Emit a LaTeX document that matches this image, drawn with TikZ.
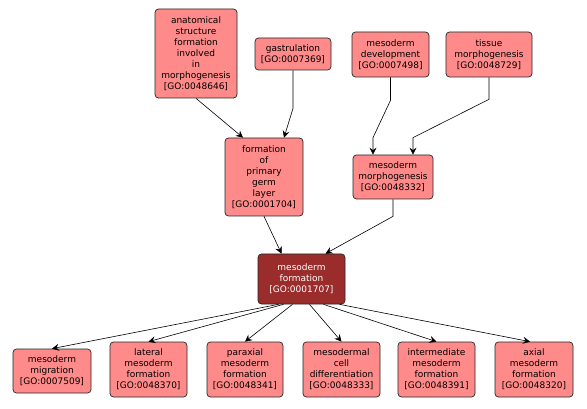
\documentclass[tikz,border=0pt]{standalone}
\usepackage{fontspec}
\setmainfont{DejaVu Sans}
\usetikzlibrary{arrows.meta, positioning, calc}
\definecolor{goSalmon}{RGB}{255,138,138}
\definecolor{goDark}{RGB}{155,44,44}

\begin{document}
\begin{tikzpicture}[x=1pt, y=-1pt,
    term/.style={draw=black!85, line width=0.7pt, fill=goSalmon, rounded corners=3.5pt, align=center, inner sep=0pt, font=\fontsize{9}{11}\selectfont},
    focus/.style={term, fill=goDark, text=white},
    link/.style={-{Stealth[length=7pt, width=7pt, inset=2.5pt]}, line width=0.6pt}]
    \useasboundingbox (0,0) rectangle (587,409);
    % Top row
    \node[term, minimum width=82pt, minimum height=89pt] (anat) at (196,53.5) {anatomical\\structure\\formation\\involved\\in\\morphogenesis\\{[}GO:0048646{]}};
    \node[term, minimum width=76pt, minimum height=32pt] (gast) at (293,54) {gastrulation\\{[}GO:0007369{]}};
    \node[term, minimum width=77pt, minimum height=45pt] (mdev) at (390.5,54.5) {mesoderm\\development\\{[}GO:0007498{]}};
    \node[term, minimum width=86pt, minimum height=45pt] (tmorph) at (489,54.5) {tissue\\morphogenesis\\{[}GO:0048729{]}};
    % Middle row
    \node[term, minimum width=78pt, minimum height=78pt] (germ) at (264,177) {formation\\of\\primary\\germ\\layer\\{[}GO:0001704{]}};
    \node[term, minimum width=80pt, minimum height=44pt] (mmorph) at (393,177) {mesoderm\\morphogenesis\\{[}GO:0048332{]}};
    % Focus term
    \node[focus, minimum width=87pt, minimum height=50pt] (mform) at (301.5,279) {mesoderm\\formation\\{[}GO:0001707{]}};
    % Bottom row
    \node[term, minimum width=78pt, minimum height=44pt] (migr) at (52,371) {mesoderm\\migration\\{[}GO:0007509{]}};
    \node[term, minimum width=77pt, minimum height=55pt] (lat) at (148.5,369.5) {lateral\\mesoderm\\formation\\{[}GO:0048370{]}};
    \node[term, minimum width=76pt, minimum height=55pt] (parax) at (245,369.5) {paraxial\\mesoderm\\formation\\{[}GO:0048341{]}};
    \node[term, minimum width=77pt, minimum height=55pt] (mcell) at (341.5,369.5) {mesodermal\\cell\\differentiation\\{[}GO:0048333{]}};
    \node[term, minimum width=77pt, minimum height=55pt] (inter) at (436.5,369.5) {intermediate\\mesoderm\\formation\\{[}GO:0048391{]}};
    \node[term, minimum width=78pt, minimum height=55pt] (axial) at (534,369.5) {axial\\mesoderm\\formation\\{[}GO:0048320{]}};
    % Edges, parents to children
    \draw[link] (anat.south) -- ([xshift=-21pt]germ.north);
    \draw[link] (gast.south) -- ++(0,38) -- ([xshift=20pt]germ.north);
    \draw[link] (mdev.south) -- ++(0,23) -- ([xshift=-20pt,yshift=17pt]mmorph.north) -- ([xshift=-20pt]mmorph.north);
    \draw[link] (tmorph.south) -- ++(0,22) -- ([xshift=20pt,yshift=17pt]mmorph.north) -- ([xshift=20pt]mmorph.north);
    \draw[link] (germ.south) -- ([xshift=-20pt]mform.north);
    \draw[link] (mmorph.south) -- ++(0,17) -- ([xshift=24pt]mform.north);
    \draw[link] ([xshift=-23pt]mform.south) -- (migr.north);
    \draw[link] ([xshift=-18pt]mform.south) -- (lat.north);
    \draw[link] ([xshift=-9pt]mform.south) -- (parax.north);
    \draw[link] ([xshift=8pt]mform.south) -- (mcell.north);
    \draw[link] ([xshift=22pt]mform.south) -- (inter.north);
    \draw[link] ([xshift=38pt]mform.south) -- ([xshift=-4pt]axial.north);
\end{tikzpicture}
\end{document}
